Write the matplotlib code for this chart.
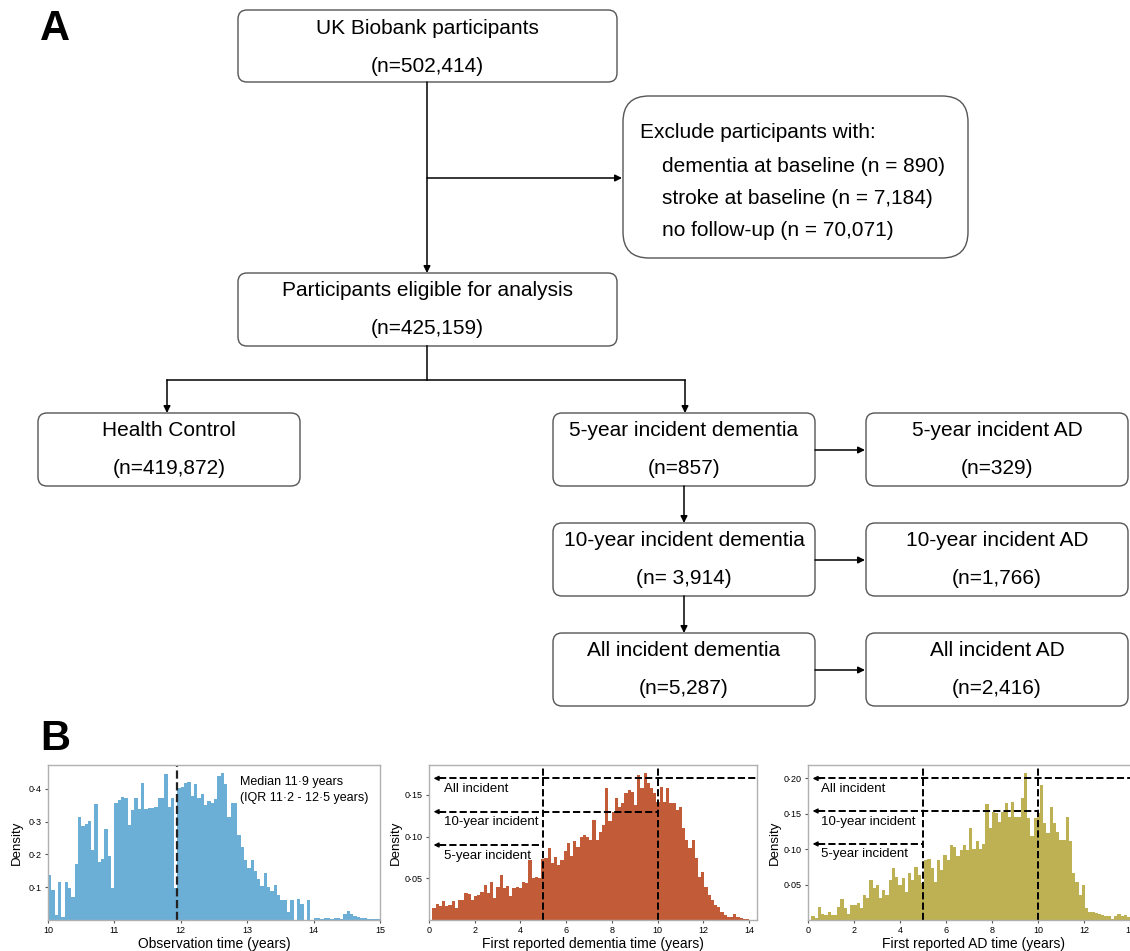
import numpy as np
import matplotlib
matplotlib.use('Agg')
import matplotlib.pyplot as plt
from matplotlib.patches import FancyBboxPatch

plt.rcParams['font.family'] = ['Liberation Sans', 'DejaVu Sans']

# ---- data ----
# observation time histogram, bins of 0.05 years from 10 to 15
obs_start, obs_width = 10.0, 0.05
obs_density = [0.137, 0.092, 0.015, 0.116, 0.010, 0.117, 0.098, 0.070, 0.172, 0.315,
               0.287, 0.294, 0.303, 0.214, 0.353, 0.178, 0.185, 0.277, 0.195, 0.097,
               0.356, 0.366, 0.376, 0.371, 0.290, 0.336, 0.371, 0.338, 0.419, 0.338,
               0.341, 0.341, 0.345, 0.371, 0.371, 0.445, 0.345, 0.373, 0.099, 0.404,
               0.407, 0.417, 0.422, 0.378, 0.414, 0.371, 0.383, 0.351, 0.363, 0.358,
               0.368, 0.440, 0.448, 0.414, 0.315, 0.358, 0.358, 0.258, 0.224, 0.183,
               0.158, 0.183, 0.150, 0.124, 0.104, 0.144, 0.102, 0.089, 0.107, 0.076,
               0.061, 0.061, 0.025, 0.061, 0.000, 0.063, 0.048, 0.000, 0.061, 0.000,
               0.005, 0.005, 0.003, 0.005, 0.005, 0.003, 0.007, 0.005, 0.003, 0.017,
               0.027, 0.017, 0.012, 0.010, 0.007, 0.005, 0.003, 0.002, 0.002, 0.002]
obs_median = 11.94

# first reported dementia time, bins of 0.14 years from 0.15
dem_start, dem_width = 0.15, 0.14
dem_density = [0.014, 0.019, 0.017, 0.023, 0.017, 0.018, 0.023, 0.015, 0.024, 0.024,
               0.032, 0.031, 0.024, 0.029, 0.030, 0.034, 0.042, 0.032, 0.046, 0.027,
               0.040, 0.054, 0.038, 0.041, 0.029, 0.038, 0.040, 0.039, 0.046, 0.044,
               0.072, 0.050, 0.052, 0.050, 0.073, 0.075, 0.086, 0.069, 0.076, 0.066,
               0.072, 0.083, 0.093, 0.077, 0.095, 0.088, 0.100, 0.102,
               0.100, 0.096, 0.120, 0.096, 0.106, 0.114, 0.158, 0.119, 0.130, 0.146,
               0.136, 0.140, 0.152, 0.156, 0.154, 0.138, 0.174, 0.158, 0.176, 0.164,
               0.158, 0.152, 0.142, 0.160, 0.142, 0.158, 0.140, 0.140, 0.132, 0.136,
               0.110, 0.096, 0.086, 0.096, 0.074, 0.052, 0.058, 0.040, 0.030, 0.024,
               0.018, 0.016, 0.010, 0.006, 0.004, 0.004, 0.007, 0.004, 0.002, 0.001,
               0.001, 0.000]

# first reported AD time, bins of 0.14 years from 0.15
ad_start, ad_width = 0.15, 0.14
ad_density = [0.006, 0.003, 0.019, 0.009, 0.007, 0.012, 0.007, 0.007, 0.019, 0.029,
              0.017, 0.009, 0.021, 0.021, 0.024, 0.017, 0.035, 0.031, 0.057, 0.045,
              0.050, 0.031, 0.042, 0.035, 0.057, 0.073, 0.061, 0.050, 0.059, 0.040,
              0.066, 0.057, 0.075, 0.064, 0.052,
              0.085, 0.086, 0.073, 0.054, 0.085, 0.071, 0.092, 0.085, 0.106, 0.103,
              0.090, 0.099, 0.106,
              0.099, 0.130, 0.101, 0.111, 0.101, 0.108, 0.164, 0.130, 0.153, 0.151,
              0.139, 0.153, 0.166, 0.146, 0.167, 0.146, 0.146, 0.172, 0.208, 0.144,
              0.118, 0.144, 0.151, 0.191, 0.137, 0.123, 0.160, 0.137, 0.125, 0.113,
              0.113, 0.146, 0.111, 0.066, 0.054, 0.035, 0.050, 0.017, 0.012, 0.012,
              0.010, 0.009, 0.007, 0.006, 0.006, 0.002, 0.005, 0.008, 0.005, 0.007,
              0.004, 0.002]

cutoffs = [5, 10]
incident_labels = ['All incident', '10-year incident', '5-year incident']
dem_levels = [0.170, 0.130, 0.090]
ad_levels = [0.200, 0.154, 0.1075]

obs_xticks = [10, 11, 12, 13, 14, 15]
obs_yticks = [0.1, 0.2, 0.3, 0.4]
obs_yticklabels = ['0·1', '0·2', '0·3', '0·4']
time_xticks = [0, 2, 4, 6, 8, 10, 12, 14]
dem_yticks = [0.05, 0.10, 0.15]
dem_yticklabels = ['0·05', '0·10', '0·15']
ad_yticks = [0.05, 0.10, 0.15, 0.20]
ad_yticklabels = ['0·05', '0·10', '0·15', '0·20']

# ---- figure ----
W, H = 1130, 951
fig = plt.figure(figsize=(W / 100, H / 100), dpi=100)

flow = fig.add_axes([0, 0, 1, 1])
flow.set_xlim(0, W)
flow.set_ylim(H, 0)
flow.axis('off')

FS = 15


def box(x0, y0, x1, y1, lines, r=9):
    flow.add_patch(FancyBboxPatch((x0, y0), x1 - x0, y1 - y0,
                                  boxstyle='round,pad=0,rounding_size=%d' % r,
                                  fc='white', ec='#555555', lw=1))
    if lines:
        cx = (x0 + x1) / 2
        flow.text(cx, y0 + 18, lines[0], ha='center', va='center', fontsize=FS)
        flow.text(cx, y0 + 56, lines[1], ha='center', va='center', fontsize=FS)


def arrow(x0, y0, x1, y1):
    flow.annotate('', xy=(x1, y1), xytext=(x0, y0),
                  arrowprops=dict(arrowstyle='-|>', color='black', lw=1.1,
                                  mutation_scale=10, shrinkA=0, shrinkB=0))


box(238, 10, 617, 82, ['UK Biobank participants', '(n=502,414)'])
box(623, 96, 968, 258, None, r=26)
flow.text(640, 133, 'Exclude participants with:', ha='left', va='center', fontsize=FS)
flow.text(662, 166, 'dementia at baseline (n = 890)', ha='left', va='center', fontsize=FS)
flow.text(662, 198, 'stroke at baseline (n = 7,184)', ha='left', va='center', fontsize=FS)
flow.text(662, 230, 'no follow-up (n = 70,071)', ha='left', va='center', fontsize=FS)
box(238, 273, 617, 346, ['Participants eligible for analysis', '(n=425,159)'])
box(38, 413, 300, 486, ['Health Control', '(n=419,872)'])
box(553, 413, 815, 486, ['5-year incident dementia', '(n=857)'])
box(866, 413, 1128, 486, ['5-year incident AD', '(n=329)'])
box(553, 523, 815, 596, ['10-year incident dementia', '(n= 3,914)'])
box(866, 523, 1128, 596, ['10-year incident AD', '(n=1,766)'])
box(553, 633, 815, 706, ['All incident dementia', '(n=5,287)'])
box(866, 633, 1128, 706, ['All incident AD', '(n=2,416)'])

arrow(427, 82, 427, 273)
arrow(427, 178, 622, 178)
flow.plot([427, 427], [346, 380], color='black', lw=1.1)
flow.plot([167, 685], [380, 380], color='black', lw=1.1)
arrow(167, 380, 167, 413)
arrow(685, 380, 685, 413)
for yy in [450, 560, 670]:
    arrow(815, yy, 865, yy)
arrow(684, 486, 684, 523)
arrow(684, 596, 684, 633)

fig.text(40 / W, 1 - 29 / H, 'A', fontsize=30, fontweight='bold', va='center', ha='left')
fig.text(40 / W, 1 - 739 / H, 'B', fontsize=30, fontweight='bold', va='center', ha='left')


def px_axes(left, right, top, bottom):
    return fig.add_axes([left / W, 1 - bottom / H, (right - left) / W, (bottom - top) / H])


def style(ax):
    for s in ax.spines.values():
        s.set_color('#b0b0b0')
        s.set_linewidth(1)
    ax.tick_params(labelsize=6.5, length=2.5, width=0.8, color='#555555', pad=2)


def draw_hist(ax, start, width, vals, color):
    edges = start + width * np.arange(len(vals))
    ax.bar(edges, vals, width=width, align='edge', color=color, lw=0)


# observation time
ax1 = px_axes(48, 380, 765, 920)
draw_hist(ax1, obs_start, obs_width, obs_density, '#6baed6')
ax1.axvline(obs_median, color='#222222', ls='--', lw=1.6)
ax1.set_xlim(10, 15)
ax1.set_ylim(0, 0.473)
ax1.set_xticks(obs_xticks)
ax1.set_yticks(obs_yticks)
ax1.set_yticklabels(obs_yticklabels)
ax1.set_xlabel('Observation time (years)', fontsize=10, labelpad=1)
ax1.set_ylabel('Density', fontsize=9.5, labelpad=4)
ax1.text(12.89, 0.422, 'Median 11·9 years', fontsize=9, va='center')
ax1.text(12.89, 0.373, '(IQR 11·2 - 12·5 years)', fontsize=9, va='center')
style(ax1)


def incident_axes(ax, start, width, vals, color, levels, ymax, yticks, yticklabels, xlabel, tx):
    draw_hist(ax, start, width, vals, color)
    ax.set_xlim(0, 14.35)
    ax.set_ylim(0, ymax)
    for c in cutoffs:
        ax.axvline(c, color='black', ls='--', lw=1.4)
    ends = [14.35, cutoffs[1], cutoffs[0]]
    for lab, lev, end in zip(incident_labels, levels, ends):
        ax.plot([0.45, end], [lev, lev], color='black', ls='--', lw=1.4)
        ax.annotate('', xy=(0.2, lev), xytext=(0.55, lev),
                    arrowprops=dict(arrowstyle='-|>', color='black', lw=1,
                                    mutation_scale=7, shrinkA=0, shrinkB=0))
        ax.text(tx, lev - ymax * 0.068, lab, fontsize=9.5, va='center', ha='left')
    ax.set_xticks(time_xticks)
    ax.set_yticks(yticks)
    ax.set_yticklabels(yticklabels)
    ax.set_xlabel(xlabel, fontsize=10, labelpad=1)
    ax.set_ylabel('Density', fontsize=9.5, labelpad=2)
    style(ax)


ax2 = px_axes(429, 757, 765, 920)
incident_axes(ax2, dem_start, dem_width, dem_density, '#c25b38', dem_levels, 0.186,
              dem_yticks, dem_yticklabels, 'First reported dementia time (years)', 0.66)

ax3 = px_axes(808, 1138, 765, 920)
incident_axes(ax3, ad_start, ad_width, ad_density, '#bdb153', ad_levels, 0.219,
              ad_yticks, ad_yticklabels, 'First reported AD time (years)', 0.55)

fig.savefig('out.png', dpi=100)
